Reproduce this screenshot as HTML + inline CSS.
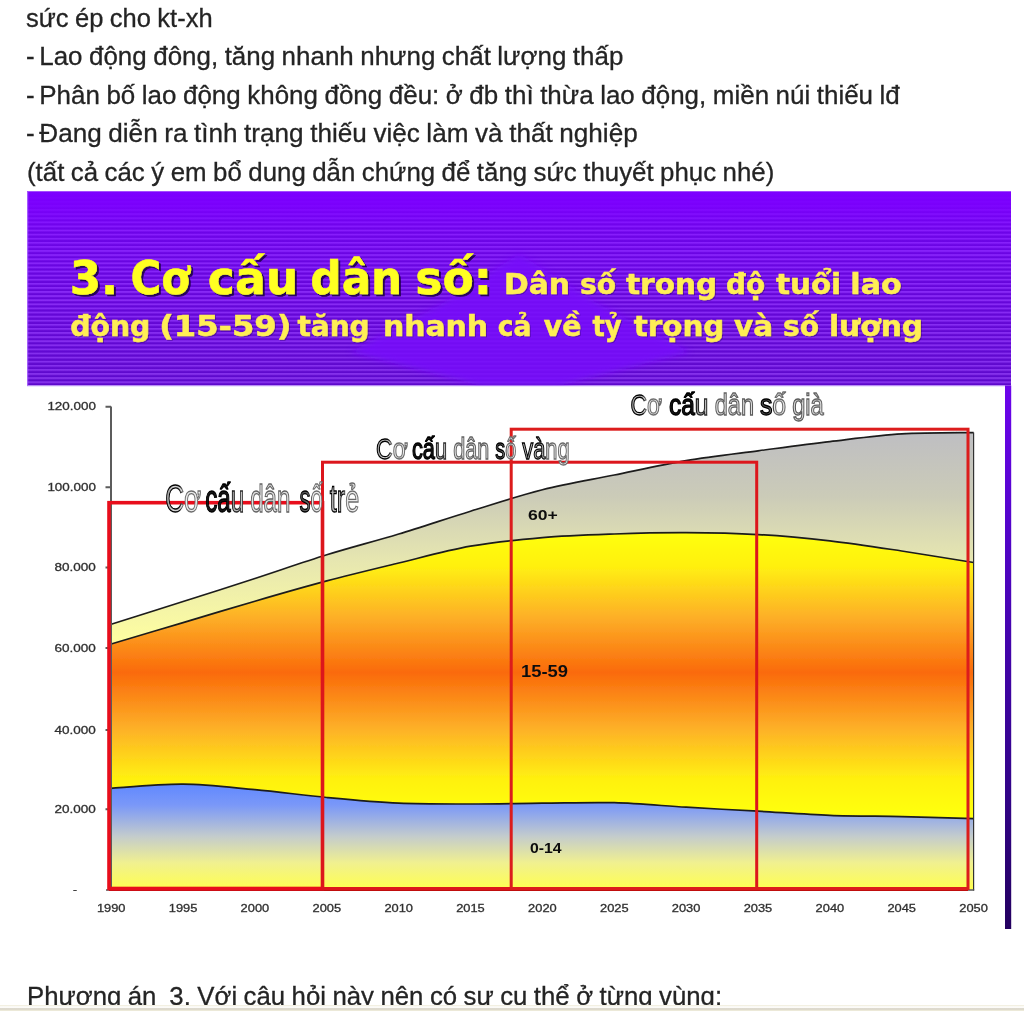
<!DOCTYPE html>
<html lang="vi"><head><meta charset="utf-8"><title>Cơ cấu dân số</title>
<style>
html,body{margin:0;padding:0;background:#fff;}
body{width:1024px;height:1011px;overflow:hidden;position:relative;font-family:"Liberation Sans",sans-serif;}
.l{position:absolute;white-space:pre;word-spacing:-0.7px;color:#242424;-webkit-text-stroke:0.3px #242424;font-size:26.5px;line-height:30px;height:30px;transform-origin:0 0;}
#clip{position:absolute;left:0;top:0;width:1024px;height:1004.6px;overflow:hidden;}
#bar{position:absolute;left:0;top:1004.5px;width:1024px;height:6.5px;background:linear-gradient(to bottom,#f3f0e2 0,#f3f0e2 1px,#fcfbf8 1.6px,#fcfbf8 2.9px,#d8d4c8 3.6px,#d8d4c8 4.3px,#ece9d8 5px,#ece9d8 100%);}
svg{position:absolute;left:0;top:0;}
.ax{font-family:"Liberation Sans",sans-serif;font-size:11px;fill:#303030;stroke:#303030;stroke-width:0.3px;}
.bl{font-family:"Liberation Sans",sans-serif;font-weight:bold;fill:#111;}
.h1{font-family:"DejaVu Sans Condensed","DejaVu Sans",sans-serif;font-weight:bold;}
.wa{font-family:"Liberation Sans",sans-serif;stroke-width:1.3px;}
</style></head><body>
<div id="clip">

<div class="l" id="L0" style="left:26.06px;top:3.0px;transform:scaleX(0.9628)">sức ép cho kt-xh</div>
<div class="l" id="L1" style="left:25.83px;top:41.4px;transform:scaleX(0.9786)"><span style="word-spacing:-2.7px">- </span>Lao động đông, tăng nhanh nhưng chất lượng thấp</div>
<div class="l" id="L2" style="left:25.83px;top:79.8px;transform:scaleX(0.9796)"><span style="word-spacing:-2.7px">- </span>Phân bố lao động không đồng đều: ở đb thì thừa lao động, miền núi thiếu lđ</div>
<div class="l" id="L3" style="left:25.82px;top:118.2px;transform:scaleX(0.9853)"><span style="word-spacing:-2.7px">- </span>Đang diễn ra tình trạng thiếu việc làm và thất nghiệp</div>
<div class="l" id="L4" style="left:26.64px;top:156.6px;transform:scaleX(0.9747)">(tất cả các ý em bổ dung dẫn chứng để tăng sức thuyết phục nhé)</div>
<div class="l" id="L5" style="left:26.66px;top:981.2px;transform:scaleX(0.9720)">Phương án  3. Với câu hỏi này nên có sự cụ thể ở từng vùng:</div>
<svg width="1024" height="1005" viewBox="0 0 1024 1005">
<defs>
<linearGradient id="gp" x1="0" y1="0" x2="0" y2="1"><stop offset="0" stop-color="#7d00ff"/><stop offset="0.3" stop-color="#7806fa"/><stop offset="1" stop-color="#6e0ce6"/></linearGradient>
<linearGradient id="gs" x1="0" y1="0" x2="0" y2="1"><stop offset="0" stop-color="#6c04ec"/><stop offset="0.25" stop-color="#5404cc"/><stop offset="0.5" stop-color="#4204a8"/><stop offset="0.75" stop-color="#320488"/><stop offset="1" stop-color="#240060"/></linearGradient>
<pattern id="st" width="8" height="4.1" patternUnits="userSpaceOnUse"><rect width="8" height="1.9" fill="#fff" fill-opacity="0.15"/><rect y="1.9" width="8" height="2.2" fill="#10004a" fill-opacity="0.17"/></pattern>
<linearGradient id="stf" x1="0" y1="0" x2="0" y2="1"><stop offset="0" stop-color="#fff" stop-opacity="0"/><stop offset="0.07" stop-color="#fff" stop-opacity="0.1"/><stop offset="0.2" stop-color="#fff" stop-opacity="0.65"/><stop offset="0.5" stop-color="#fff" stop-opacity="0.9"/><stop offset="1" stop-color="#fff" stop-opacity="1"/></linearGradient>
<clipPath id="cpp"><rect x="27" y="191.3" width="984" height="194.2"/></clipPath>
<mask id="stm"><rect x="27" y="191" width="984" height="195" fill="url(#stf)"/></mask>
<linearGradient id="g60" gradientUnits="userSpaceOnUse" x1="0" y1="432" x2="0" y2="644"><stop offset="0" stop-color="#bebec2"/><stop offset="0.3" stop-color="#cbcbb8"/><stop offset="0.6" stop-color="#e6e6b0"/><stop offset="1" stop-color="#ffffa0"/></linearGradient>
<linearGradient id="g15" gradientUnits="userSpaceOnUse" x1="0" y1="533" x2="0" y2="812"><stop offset="0" stop-color="#ffff10"/><stop offset="0.12" stop-color="#fff010"/><stop offset="0.3" stop-color="#fdb028"/><stop offset="0.5" stop-color="#fa6a0a"/><stop offset="0.7" stop-color="#fdb028"/><stop offset="0.88" stop-color="#fff010"/><stop offset="1" stop-color="#ffff10"/></linearGradient>
<linearGradient id="g0" gradientUnits="userSpaceOnUse" x1="0" y1="784" x2="0" y2="889"><stop offset="0" stop-color="#6088ff"/><stop offset="0.2" stop-color="#7a98f8"/><stop offset="0.5" stop-color="#c4cccc"/><stop offset="0.75" stop-color="#f0f090"/><stop offset="1" stop-color="#ffff50"/></linearGradient>
<linearGradient id="gw" gradientUnits="userSpaceOnUse" x1="0" y1="0" x2="96" y2="0" spreadMethod="repeat"><stop offset="0" stop-color="#000"/><stop offset="0.18" stop-color="#111"/><stop offset="0.36" stop-color="#fff"/><stop offset="0.5" stop-color="#ddd"/><stop offset="0.6" stop-color="#000"/><stop offset="0.8" stop-color="#222"/><stop offset="0.9" stop-color="#aaa"/><stop offset="1" stop-color="#000"/></linearGradient>
<filter id="bl" x="-5%" y="-5%" width="110%" height="110%"><feGaussianBlur stdDeviation="0.6"/></filter>
<filter id="bl3" x="-10%" y="-10%" width="120%" height="120%"><feGaussianBlur stdDeviation="3"/></filter>
<filter id="sh1" x="-2%" y="-20%" width="104%" height="150%"><feGaussianBlur in="SourceGraphic" stdDeviation="0.5" result="b"/><feOffset in="b" dx="2.2" dy="2.2" result="o"/><feFlood flood-color="#1a0040" flood-opacity="0.85"/><feComposite in2="o" operator="in" result="s"/><feMerge><feMergeNode in="s"/><feMergeNode in="b"/></feMerge></filter>
<filter id="sh2" x="-2%" y="-20%" width="104%" height="150%"><feGaussianBlur in="SourceGraphic" stdDeviation="0.5" result="b"/><feOffset in="b" dx="1.3" dy="1.3" result="o"/><feFlood flood-color="#1a0040" flood-opacity="0.35"/><feComposite in2="o" operator="in" result="s"/><feMerge><feMergeNode in="s"/><feMergeNode in="b"/></feMerge></filter>
<filter id="bl2" x="-5%" y="-20%" width="110%" height="140%"><feGaussianBlur stdDeviation="0.5"/></filter>
</defs>
<rect x="27" y="191.3" width="984" height="737.7" fill="#fff"/>
<rect x="27" y="191.3" width="984" height="194.2" fill="url(#gp)"/>
<rect x="27" y="191.3" width="984" height="194.2" fill="url(#st)" mask="url(#stm)"/>
<rect x="27" y="385.5" width="978" height="1" fill="#c9a6ff" opacity="0.6"/>
<g clip-path="url(#cpp)"><path d="M519,254L600,305L690,352L560,385.5H480L350,352L440,305Z" fill="#770efa" opacity="0.85" filter="url(#bl3)"/></g>
<rect x="1005" y="385.5" width="6.2" height="543.5" fill="url(#gs)"/>
<rect x="27" y="192" width="1.2" height="194" fill="#b070ff" opacity="0.8"/>
<g class="h1" filter="url(#sh1)">
<text x="69.68" y="293.8" font-size="47" fill="#ffff20" stroke="#ffff20" stroke-width="0.5" textLength="48.42" lengthAdjust="spacingAndGlyphs">3.</text>
<text x="130.47" y="293.8" font-size="47" fill="#ffff20" stroke="#ffff20" stroke-width="0.5" textLength="59.51" lengthAdjust="spacingAndGlyphs">Cơ</text>
<text x="207.88" y="293.8" font-size="47" fill="#ffff20" stroke="#ffff20" stroke-width="0.5" textLength="90.31" lengthAdjust="spacingAndGlyphs">cấu</text>
<text x="310.37" y="293.8" font-size="47" fill="#ffff20" stroke="#ffff20" stroke-width="0.5" textLength="91.84" lengthAdjust="spacingAndGlyphs">dân</text>
<text x="415.31" y="293.8" font-size="47" fill="#ffff20" stroke="#ffff20" stroke-width="0.5" textLength="76.56" lengthAdjust="spacingAndGlyphs">số:</text>
</g>
<g class="h1" filter="url(#sh2)">
<text x="504.10" y="293.8" font-size="29.2" fill="#ffee55" stroke="#ffee55" stroke-width="0.5" textLength="65.82" lengthAdjust="spacingAndGlyphs">Dân</text>
<text x="579.97" y="293.8" font-size="29.2" fill="#ffee55" stroke="#ffee55" stroke-width="0.5" textLength="36.03" lengthAdjust="spacingAndGlyphs">số</text>
<text x="626.00" y="293.8" font-size="29.2" fill="#ffee55" stroke="#ffee55" stroke-width="0.5" textLength="91.05" lengthAdjust="spacingAndGlyphs">trong</text>
<text x="725.94" y="293.8" font-size="29.2" fill="#ffee55" stroke="#ffee55" stroke-width="0.5" textLength="39.11" lengthAdjust="spacingAndGlyphs">độ</text>
<text x="776.00" y="293.8" font-size="29.2" fill="#ffee55" stroke="#ffee55" stroke-width="0.5" textLength="65.07" lengthAdjust="spacingAndGlyphs">tuổi</text>
<text x="850.34" y="293.8" font-size="29.2" fill="#ffee55" stroke="#ffee55" stroke-width="0.5" textLength="51.28" lengthAdjust="spacingAndGlyphs">lao</text>
<text x="70.22" y="336.2" font-size="29.2" fill="#ffee55" stroke="#ffee55" stroke-width="0.5" textLength="80.08" lengthAdjust="spacingAndGlyphs">động</text>
<text x="159.18" y="336.2" font-size="29.2" fill="#ffee55" stroke="#ffee55" stroke-width="0.5" textLength="132.16" lengthAdjust="spacingAndGlyphs">(15-59)</text>
<text x="297.50" y="336.2" font-size="29.2" fill="#ffee55" stroke="#ffee55" stroke-width="0.5" textLength="72.06" lengthAdjust="spacingAndGlyphs">tăng</text>
<text x="382.92" y="336.2" font-size="29.2" fill="#ffee55" stroke="#ffee55" stroke-width="0.5" textLength="105.16" lengthAdjust="spacingAndGlyphs">nhanh</text>
<text x="497.67" y="336.2" font-size="29.2" fill="#ffee55" stroke="#ffee55" stroke-width="0.5" textLength="33.67" lengthAdjust="spacingAndGlyphs">cả</text>
<text x="543.75" y="336.2" font-size="29.2" fill="#ffee55" stroke="#ffee55" stroke-width="0.5" textLength="37.54" lengthAdjust="spacingAndGlyphs">về</text>
<text x="592.50" y="336.2" font-size="29.2" fill="#ffee55" stroke="#ffee55" stroke-width="0.5" textLength="29.01" lengthAdjust="spacingAndGlyphs">tỷ</text>
<text x="633.75" y="336.2" font-size="29.2" fill="#ffee55" stroke="#ffee55" stroke-width="0.5" textLength="90.54" lengthAdjust="spacingAndGlyphs">trọng</text>
<text x="734.00" y="336.2" font-size="29.2" fill="#ffee55" stroke="#ffee55" stroke-width="0.5" textLength="39.11" lengthAdjust="spacingAndGlyphs">và</text>
<text x="782.97" y="336.2" font-size="29.2" fill="#ffee55" stroke="#ffee55" stroke-width="0.5" textLength="36.03" lengthAdjust="spacingAndGlyphs">số</text>
<text x="828.91" y="336.2" font-size="29.2" fill="#ffee55" stroke="#ffee55" stroke-width="0.5" textLength="94.19" lengthAdjust="spacingAndGlyphs">lượng</text>
</g>
<g filter="url(#bl)">
<path fill="url(#g60)" d="M111.2,624.2 C122.7,620.6 160.1,608.8 183.1,601.5 C206.1,594.2 231.9,586.0 254.9,578.5 C277.9,571.0 303.8,561.9 326.8,554.8 C349.8,547.7 375.7,541.0 398.7,534.0 C421.7,527.0 447.5,518.3 470.5,511.2 C493.5,504.1 519.4,495.6 542.4,489.8 C565.4,484.0 591.3,479.7 614.3,475.0 C637.3,470.3 663.1,464.5 686.1,460.6 C709.1,456.7 735.0,453.8 758.0,450.8 C781.0,447.8 806.9,444.3 829.9,441.6 C852.9,438.9 878.7,435.3 901.7,433.9 C924.7,432.5 962.1,432.8 973.6,432.6 L973.6,562.5 C962.1,560.7 924.7,554.5 901.7,551.0 C878.7,547.5 852.9,543.4 829.9,540.8 C806.9,538.2 781.0,535.9 758.0,534.6 C735.0,533.3 709.1,532.8 686.1,532.7 C663.1,532.6 637.3,533.2 614.3,534.0 C591.3,534.8 565.4,535.6 542.4,537.6 C519.4,539.6 493.5,542.1 470.5,546.2 C447.5,550.3 421.7,557.4 398.7,563.0 C375.7,568.6 349.8,574.8 326.8,580.9 C303.8,587.0 277.9,594.5 254.9,601.2 C231.9,607.9 206.1,615.8 183.1,622.6 C160.1,629.4 122.7,640.6 111.2,644.0 Z"/>
<path fill="url(#g15)" d="M111.2,644.0 C122.7,640.6 160.1,629.4 183.1,622.6 C206.1,615.8 231.9,607.9 254.9,601.2 C277.9,594.5 303.8,587.0 326.8,580.9 C349.8,574.8 375.7,568.6 398.7,563.0 C421.7,557.4 447.5,550.3 470.5,546.2 C493.5,542.1 519.4,539.6 542.4,537.6 C565.4,535.6 591.3,534.8 614.3,534.0 C637.3,533.2 663.1,532.6 686.1,532.7 C709.1,532.8 735.0,533.3 758.0,534.6 C781.0,535.9 806.9,538.2 829.9,540.8 C852.9,543.4 878.7,547.5 901.7,551.0 C924.7,554.5 962.1,560.7 973.6,562.5 L973.6,818.6 C962.1,818.3 924.7,817.1 901.7,816.6 C878.7,816.1 852.9,816.2 829.9,815.3 C806.9,814.4 781.0,812.5 758.0,811.2 C735.0,809.9 709.1,808.6 686.1,807.2 C663.1,805.8 637.3,803.3 614.3,802.7 C591.3,802.1 565.4,803.0 542.4,803.2 C519.4,803.4 493.5,804.0 470.5,804.0 C447.5,804.0 421.7,804.2 398.7,803.2 C375.7,802.2 349.8,799.7 326.8,797.5 C303.8,795.3 277.9,791.8 254.9,789.7 C231.9,787.6 206.1,784.4 183.1,784.2 C160.1,784.0 122.7,787.6 111.2,788.3 Z"/>
<path fill="url(#g0)" d="M111.2,788.3 C122.7,787.6 160.1,784.0 183.1,784.2 C206.1,784.4 231.9,787.6 254.9,789.7 C277.9,791.8 303.8,795.3 326.8,797.5 C349.8,799.7 375.7,802.2 398.7,803.2 C421.7,804.2 447.5,804.0 470.5,804.0 C493.5,804.0 519.4,803.4 542.4,803.2 C565.4,803.0 591.3,802.1 614.3,802.7 C637.3,803.3 663.1,805.8 686.1,807.2 C709.1,808.6 735.0,809.9 758.0,811.2 C781.0,812.5 806.9,814.4 829.9,815.3 C852.9,816.2 878.7,816.1 901.7,816.6 C924.7,817.1 962.1,818.3 973.6,818.6 L973.6,889.5 L111.2,889.5 Z"/>
<path fill="none" stroke="#1c1c1c" stroke-width="1.7" d="M111.2,624.2 C122.7,620.6 160.1,608.8 183.1,601.5 C206.1,594.2 231.9,586.0 254.9,578.5 C277.9,571.0 303.8,561.9 326.8,554.8 C349.8,547.7 375.7,541.0 398.7,534.0 C421.7,527.0 447.5,518.3 470.5,511.2 C493.5,504.1 519.4,495.6 542.4,489.8 C565.4,484.0 591.3,479.7 614.3,475.0 C637.3,470.3 663.1,464.5 686.1,460.6 C709.1,456.7 735.0,453.8 758.0,450.8 C781.0,447.8 806.9,444.3 829.9,441.6 C852.9,438.9 878.7,435.3 901.7,433.9 C924.7,432.5 962.1,432.8 973.6,432.6"/>
<path fill="none" stroke="#1c1c1c" stroke-width="1.7" d="M111.2,644.0 C122.7,640.6 160.1,629.4 183.1,622.6 C206.1,615.8 231.9,607.9 254.9,601.2 C277.9,594.5 303.8,587.0 326.8,580.9 C349.8,574.8 375.7,568.6 398.7,563.0 C421.7,557.4 447.5,550.3 470.5,546.2 C493.5,542.1 519.4,539.6 542.4,537.6 C565.4,535.6 591.3,534.8 614.3,534.0 C637.3,533.2 663.1,532.6 686.1,532.7 C709.1,532.8 735.0,533.3 758.0,534.6 C781.0,535.9 806.9,538.2 829.9,540.8 C852.9,543.4 878.7,547.5 901.7,551.0 C924.7,554.5 962.1,560.7 973.6,562.5"/>
<path fill="none" stroke="#1c1c1c" stroke-width="1.7" d="M111.2,788.3 C122.7,787.6 160.1,784.0 183.1,784.2 C206.1,784.4 231.9,787.6 254.9,789.7 C277.9,791.8 303.8,795.3 326.8,797.5 C349.8,799.7 375.7,802.2 398.7,803.2 C421.7,804.2 447.5,804.0 470.5,804.0 C493.5,804.0 519.4,803.4 542.4,803.2 C565.4,803.0 591.3,802.1 614.3,802.7 C637.3,803.3 663.1,805.8 686.1,807.2 C709.1,808.6 735.0,809.9 758.0,811.2 C781.0,812.5 806.9,814.4 829.9,815.3 C852.9,816.2 878.7,816.1 901.7,816.6 C924.7,817.1 962.1,818.3 973.6,818.6"/>
<path d="M111,406.5V890 M105.5,406.7H111 M105.5,487.2H111 M105.5,567.5H111 M105.5,648H111 M105.5,730H111 M105.5,809.3H111" stroke="#5c5c5c" stroke-width="2" fill="none"/>
<path d="M973.6,432.6V890.5" stroke="#333" stroke-width="1.2" fill="none"/>
<path d="M106,890H974.2" stroke="#555" stroke-width="1.6" fill="none"/>
<path d="M109,889.5H968" stroke="#c00810" stroke-width="3.2" fill="none"/>
<rect x="109" y="502.7" width="213.5" height="385.8" fill="none" stroke="#e8101a" stroke-width="3.6"/>
<rect x="322.5" y="462.2" width="434.2" height="426.3" fill="none" stroke="#dc161c" stroke-width="3"/>
<rect x="511.2" y="429.2" width="456.8" height="459.3" fill="none" stroke="#dc1a1a" stroke-width="3"/>
</g>
<g class="ax" filter="url(#bl2)">
<text x="47.4" y="410.0" textLength="48.5" lengthAdjust="spacingAndGlyphs">120.000</text>
<text x="47.4" y="491.4" textLength="48.5" lengthAdjust="spacingAndGlyphs">100.000</text>
<text x="54.6" y="570.7" textLength="41.3" lengthAdjust="spacingAndGlyphs">80.000</text>
<text x="54.6" y="652.3" textLength="41.3" lengthAdjust="spacingAndGlyphs">60.000</text>
<text x="54.6" y="733.5" textLength="41.3" lengthAdjust="spacingAndGlyphs">40.000</text>
<text x="54.6" y="813.3" textLength="41.3" lengthAdjust="spacingAndGlyphs">20.000</text>
<text x="73" y="893" textLength="4" lengthAdjust="spacingAndGlyphs">-</text>
<text x="96.9" y="911.8" textLength="28.6" lengthAdjust="spacingAndGlyphs">1990</text>
<text x="168.8" y="911.8" textLength="28.6" lengthAdjust="spacingAndGlyphs">1995</text>
<text x="240.6" y="911.8" textLength="28.6" lengthAdjust="spacingAndGlyphs">2000</text>
<text x="312.5" y="911.8" textLength="28.6" lengthAdjust="spacingAndGlyphs">2005</text>
<text x="384.4" y="911.8" textLength="28.6" lengthAdjust="spacingAndGlyphs">2010</text>
<text x="456.2" y="911.8" textLength="28.6" lengthAdjust="spacingAndGlyphs">2015</text>
<text x="528.1" y="911.8" textLength="28.6" lengthAdjust="spacingAndGlyphs">2020</text>
<text x="600.0" y="911.8" textLength="28.6" lengthAdjust="spacingAndGlyphs">2025</text>
<text x="671.8" y="911.8" textLength="28.6" lengthAdjust="spacingAndGlyphs">2030</text>
<text x="743.7" y="911.8" textLength="28.6" lengthAdjust="spacingAndGlyphs">2035</text>
<text x="815.6" y="911.8" textLength="28.6" lengthAdjust="spacingAndGlyphs">2040</text>
<text x="887.4" y="911.8" textLength="28.6" lengthAdjust="spacingAndGlyphs">2045</text>
<text x="959.3" y="911.8" textLength="28.6" lengthAdjust="spacingAndGlyphs">2050</text>
</g>
<g class="bl" filter="url(#bl2)">
<text x="527.9" y="519.6" font-size="15.5" textLength="29.8" lengthAdjust="spacingAndGlyphs">60+</text>
<text x="521" y="676.5" font-size="16.5" textLength="47" lengthAdjust="spacingAndGlyphs">15-59</text>
<text x="529.9" y="852.6" font-size="15" textLength="31.6" lengthAdjust="spacingAndGlyphs">0-14</text>
</g>
<g class="wa" fill="url(#gwf1)" stroke="url(#gws1)" font-size="39" filter="url(#bl2)"><text x="165.2" y="512.0" textLength="36.1" lengthAdjust="spacingAndGlyphs">Cơ</text><text x="205.2" y="512.0" textLength="39.1" lengthAdjust="spacingAndGlyphs">cấu</text><text x="250.2" y="512.0" textLength="40.3" lengthAdjust="spacingAndGlyphs">dân</text><text x="299.6" y="512.0" textLength="23.2" lengthAdjust="spacingAndGlyphs">số</text><text x="329.7" y="512.0" textLength="29.5" lengthAdjust="spacingAndGlyphs">trẻ</text></g>
<g class="wa" fill="url(#gwf2)" stroke="url(#gws2)" font-size="29.5" filter="url(#bl2)"><text x="376.0" y="459.4" textLength="31.8" lengthAdjust="spacingAndGlyphs">Cơ</text><text x="411.9" y="459.4" textLength="35.1" lengthAdjust="spacingAndGlyphs">cấu</text><text x="453.2" y="459.4" textLength="36.1" lengthAdjust="spacingAndGlyphs">dân</text><text x="495.2" y="459.4" textLength="21.0" lengthAdjust="spacingAndGlyphs">số</text><text x="522.2" y="459.4" textLength="47.6" lengthAdjust="spacingAndGlyphs">vàng</text></g>
<g class="wa" fill="url(#gwf3)" stroke="url(#gws3)" font-size="29.5" filter="url(#bl2)"><text x="630.4" y="414.7" textLength="31.7" lengthAdjust="spacingAndGlyphs">Cơ</text><text x="669.0" y="414.7" textLength="39.5" lengthAdjust="spacingAndGlyphs">cấu</text><text x="714.8" y="414.7" textLength="39.2" lengthAdjust="spacingAndGlyphs">dân</text><text x="759.9" y="414.7" textLength="26.3" lengthAdjust="spacingAndGlyphs">số</text><text x="792.2" y="414.7" textLength="31.6" lengthAdjust="spacingAndGlyphs">già</text></g>
<defs><linearGradient id="gwf1" gradientUnits="userSpaceOnUse" x1="166.0" y1="0" x2="358.4" y2="0"><stop offset="0.0000" stop-color="#919191"/><stop offset="0.0394" stop-color="#d6d6d6"/><stop offset="0.0711" stop-color="#cacaca"/><stop offset="0.0867" stop-color="#ededed"/><stop offset="0.1793" stop-color="#ededed"/><stop offset="0.2027" stop-color="#141414"/><stop offset="0.3339" stop-color="#141414"/><stop offset="0.3547" stop-color="#b4b4b4"/><stop offset="0.4028" stop-color="#cacaca"/><stop offset="0.4418" stop-color="#e1e1e1"/><stop offset="0.6429" stop-color="#dddddd"/><stop offset="0.6933" stop-color="#424242"/><stop offset="0.7469" stop-color="#6f6f6f"/><stop offset="0.7625" stop-color="#ededed"/><stop offset="0.8108" stop-color="#ededed"/><stop offset="0.8498" stop-color="#bfbfbf"/><stop offset="0.9171" stop-color="#b4b4b4"/><stop offset="0.9379" stop-color="#e6e6e6"/><stop offset="1.0000" stop-color="#ededed"/></linearGradient><linearGradient id="gws1" gradientUnits="userSpaceOnUse" x1="166.0" y1="0" x2="358.4" y2="0"><stop offset="0.0000" stop-color="#000000"/><stop offset="0.0394" stop-color="#000000"/><stop offset="0.0711" stop-color="#0c0c0c"/><stop offset="0.0867" stop-color="#6e6e6e"/><stop offset="0.1793" stop-color="#6b6b6b"/><stop offset="0.2027" stop-color="#000000"/><stop offset="0.3339" stop-color="#000000"/><stop offset="0.3547" stop-color="#252525"/><stop offset="0.4028" stop-color="#313131"/><stop offset="0.4418" stop-color="#626262"/><stop offset="0.6429" stop-color="#5c5c5c"/><stop offset="0.6933" stop-color="#000000"/><stop offset="0.7469" stop-color="#000000"/><stop offset="0.7625" stop-color="#6e6e6e"/><stop offset="0.8108" stop-color="#6b6b6b"/><stop offset="0.8498" stop-color="#000000"/><stop offset="0.9171" stop-color="#0c0c0c"/><stop offset="0.9379" stop-color="#686868"/><stop offset="1.0000" stop-color="#6b6b6b"/></linearGradient><linearGradient id="gwf2" gradientUnits="userSpaceOnUse" x1="376.8" y1="0" x2="569.0" y2="0"><stop offset="0.0000" stop-color="#919191"/><stop offset="0.0346" stop-color="#d6d6d6"/><stop offset="0.0613" stop-color="#cacaca"/><stop offset="0.0769" stop-color="#ededed"/><stop offset="0.1571" stop-color="#ededed"/><stop offset="0.1816" stop-color="#141414"/><stop offset="0.2984" stop-color="#141414"/><stop offset="0.3192" stop-color="#b4b4b4"/><stop offset="0.3611" stop-color="#cacaca"/><stop offset="0.4017" stop-color="#e1e1e1"/><stop offset="0.5812" stop-color="#dddddd"/><stop offset="0.6150" stop-color="#424242"/><stop offset="0.6629" stop-color="#6f6f6f"/><stop offset="0.6785" stop-color="#ededed"/><stop offset="0.7211" stop-color="#ededed"/><stop offset="0.7555" stop-color="#bfbfbf"/><stop offset="0.8699" stop-color="#b4b4b4"/><stop offset="0.8907" stop-color="#e6e6e6"/><stop offset="1.0000" stop-color="#ededed"/></linearGradient><linearGradient id="gws2" gradientUnits="userSpaceOnUse" x1="376.8" y1="0" x2="569.0" y2="0"><stop offset="0.0000" stop-color="#000000"/><stop offset="0.0346" stop-color="#000000"/><stop offset="0.0613" stop-color="#0c0c0c"/><stop offset="0.0769" stop-color="#6e6e6e"/><stop offset="0.1571" stop-color="#6b6b6b"/><stop offset="0.1816" stop-color="#000000"/><stop offset="0.2984" stop-color="#000000"/><stop offset="0.3192" stop-color="#252525"/><stop offset="0.3611" stop-color="#313131"/><stop offset="0.4017" stop-color="#626262"/><stop offset="0.5812" stop-color="#5c5c5c"/><stop offset="0.6150" stop-color="#000000"/><stop offset="0.6629" stop-color="#000000"/><stop offset="0.6785" stop-color="#6e6e6e"/><stop offset="0.7211" stop-color="#6b6b6b"/><stop offset="0.7555" stop-color="#000000"/><stop offset="0.8699" stop-color="#0c0c0c"/><stop offset="0.8907" stop-color="#686868"/><stop offset="1.0000" stop-color="#6b6b6b"/></linearGradient><linearGradient id="gwf3" gradientUnits="userSpaceOnUse" x1="631.2" y1="0" x2="823.0" y2="0"><stop offset="0.0000" stop-color="#919191"/><stop offset="0.0345" stop-color="#d6d6d6"/><stop offset="0.0612" stop-color="#cacaca"/><stop offset="0.0769" stop-color="#ededed"/><stop offset="0.1569" stop-color="#ededed"/><stop offset="0.1960" stop-color="#141414"/><stop offset="0.3291" stop-color="#141414"/><stop offset="0.3500" stop-color="#b4b4b4"/><stop offset="0.3989" stop-color="#cacaca"/><stop offset="0.4400" stop-color="#e1e1e1"/><stop offset="0.6361" stop-color="#dddddd"/><stop offset="0.6700" stop-color="#424242"/><stop offset="0.7318" stop-color="#6f6f6f"/><stop offset="0.7474" stop-color="#ededed"/><stop offset="0.8040" stop-color="#ededed"/><stop offset="0.8384" stop-color="#d6d6d6"/><stop offset="1.0000" stop-color="#e1e1e1"/></linearGradient><linearGradient id="gws3" gradientUnits="userSpaceOnUse" x1="631.2" y1="0" x2="823.0" y2="0"><stop offset="0.0000" stop-color="#000000"/><stop offset="0.0345" stop-color="#000000"/><stop offset="0.0612" stop-color="#0c0c0c"/><stop offset="0.0769" stop-color="#6e6e6e"/><stop offset="0.1569" stop-color="#6b6b6b"/><stop offset="0.1960" stop-color="#000000"/><stop offset="0.3291" stop-color="#000000"/><stop offset="0.3500" stop-color="#252525"/><stop offset="0.3989" stop-color="#313131"/><stop offset="0.4400" stop-color="#626262"/><stop offset="0.6361" stop-color="#5c5c5c"/><stop offset="0.6700" stop-color="#000000"/><stop offset="0.7318" stop-color="#000000"/><stop offset="0.7474" stop-color="#6e6e6e"/><stop offset="0.8040" stop-color="#6b6b6b"/><stop offset="0.8384" stop-color="#555555"/><stop offset="1.0000" stop-color="#686868"/></linearGradient></defs>
</svg>
</div>
<div id="bar"></div>
</body></html>
